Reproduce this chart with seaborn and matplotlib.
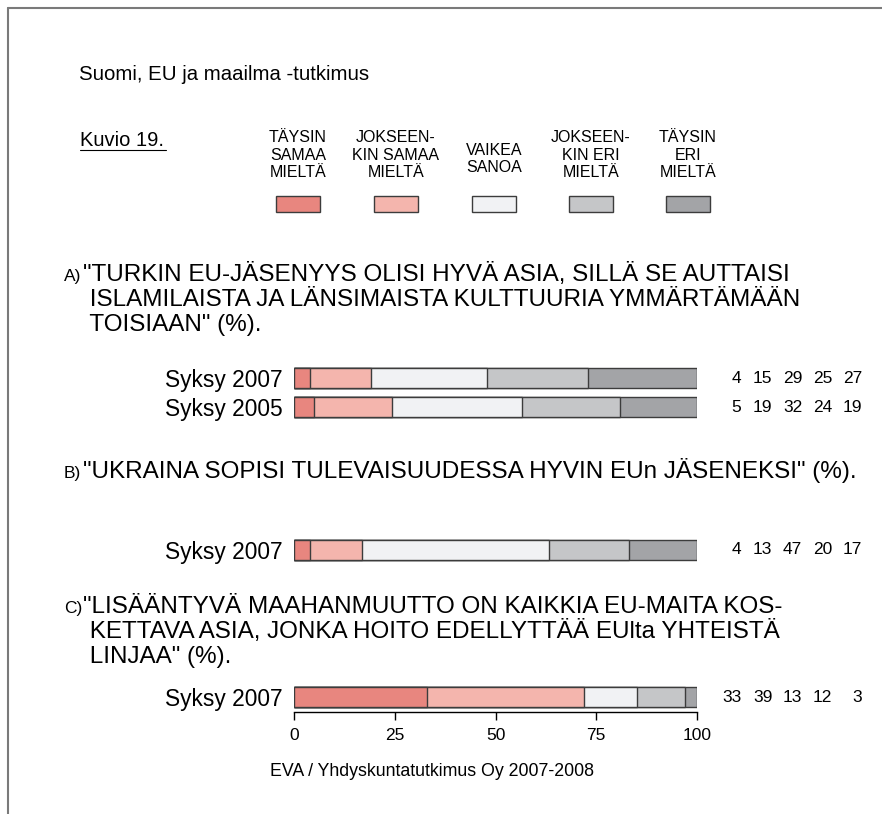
"""
Suomi, EU ja maailma -tutkimus, Kuvio 19: stacked agreement bars.
"""
import matplotlib

matplotlib.use("Agg")
import matplotlib.pyplot as plt
import numpy as np
import pandas as pd
import seaborn as sns
from matplotlib.lines import Line2D
from matplotlib.patches import Rectangle

# ---------------------------------------------------------------------------
# Data
# ---------------------------------------------------------------------------
CATEGORIES = [
    "TÄYSIN\nSAMAA\nMIELTÄ",
    "JOKSEEN-\nKIN SAMAA\nMIELTÄ",
    "VAIKEA\nSANOA",
    "JOKSEEN-\nKIN ERI\nMIELTÄ",
    "TÄYSIN\nERI\nMIELTÄ",
]
ROWS_A = ["Syksy 2007", "Syksy 2005"]
VALUES_A = [[4, 15, 29, 25, 27], [5, 19, 32, 24, 19]]
ROWS_B = ["Syksy 2007"]
VALUES_B = [[4, 13, 47, 20, 17]]
ROWS_C = ["Syksy 2007"]
VALUES_C = [[33, 39, 13, 12, 3]]
X_TICKS = [0, 25, 50, 75, 100]

QUESTION_A = [
    '"TURKIN EU-JÄSENYYS OLISI HYVÄ ASIA, SILLÄ SE AUTTAISI',
    ' ISLAMILAISTA JA LÄNSIMAISTA KULTTUURIA YMMÄRTÄMÄÄN',
    ' TOISIAAN" (%).',
]
QUESTION_B = ['"UKRAINA SOPISI TULEVAISUUDESSA HYVIN EUn JÄSENEKSI" (%).']
QUESTION_C = [
    '"LISÄÄNTYVÄ MAAHANMUUTTO ON KAIKKIA EU-MAITA KOS-',
    ' KETTAVA ASIA, JONKA HOITO EDELLYTTÄÄ EUlta YHTEISTÄ',
    ' LINJAA" (%).',
]

# ---------------------------------------------------------------------------
# Style / layout
# ---------------------------------------------------------------------------
COLORS = ["#e8867f", "#f4b5ad", "#f1f2f4", "#c5c6c8", "#a3a4a7"]
EDGE = "#3c3c3c"
W, H = 882, 814
BAR_L, BAR_R = 294, 697          # pixel span of 0..100
ROW_STEP = 29                    # pixels between bar rows
NUM_X = [111.0, 118.7, 126.1, 133.6, 141.0]  # right edges of value columns (data units)

sns.set_theme(style="white")
plt.rcParams["font.family"] = ["Liberation Sans", "DejaVu Sans"]
plt.rcParams["text.color"] = "black"

fig = plt.figure(figsize=(W / 100, H / 100), dpi=100)


def fx(x):
    return x / W


def fy(y):
    return 1 - y / H


def stacked_panel(center_top, rows, values, show_x=False):
    n = len(rows)
    top = center_top - ROW_STEP / 2
    ax = fig.add_axes([fx(BAR_L), fy(top + n * ROW_STEP), (BAR_R - BAR_L) / W, n * ROW_STEP / H])
    vals = np.array(values, dtype=float)
    # bars are drawn as shares of the row total (rounded rows may not sum to 100)
    share = vals / vals.sum(axis=1, keepdims=True) * 100
    cum = share.cumsum(axis=1)
    # draw cumulative totals from longest to shortest so segments stack
    for k in range(vals.shape[1] - 1, -1, -1):
        df = pd.DataFrame({"row": rows, "value": cum[:, k]})
        sns.barplot(
            data=df, x="value", y="row", orient="h", color=COLORS[k],
            saturation=1, width=20 / ROW_STEP, edgecolor=EDGE, linewidth=1,
            errorbar=None, ax=ax,
        )
    ax.set_xlim(0, 100)
    ax.set_ylim(n - 0.5, -0.5)
    ax.set_xlabel("")
    ax.set_ylabel("")
    for s in ["top", "right", "left"]:
        ax.spines[s].set_visible(False)
    ax.tick_params(axis="y", length=0, pad=8, labelsize=16.4, labelcolor="black")
    if show_x:
        ax.spines["bottom"].set_color("black")
        ax.spines["bottom"].set_linewidth(1)
        ax.set_xticks(X_TICKS)
        ax.tick_params(axis="x", bottom=True, length=6, width=1, color="black",
                       pad=6, labelsize=12.5, labelcolor="black")
    else:
        ax.spines["bottom"].set_visible(False)
        ax.set_xticks([])
    ax.set_facecolor("none")
    for i, row in enumerate(values):
        for j, v in enumerate(row):
            ax.text(NUM_X[j], i, str(v), ha="right", va="center", fontsize=12.5,
                    color="black", clip_on=False)
    return ax


def question(label, lines, baseline, step=25):
    fig.text(fx(64), fy(baseline), label, fontsize=12.5, va="baseline", ha="left")
    for i, line in enumerate(lines):
        fig.text(fx(83), fy(baseline + i * step), line, fontsize=17.5, va="baseline", ha="left")


# frame (top and left rules)
fig.add_artist(Line2D([fx(8), 1], [fy(8), fy(8)], color="#7a7a7a", lw=1.5))
fig.add_artist(Line2D([fx(8), fx(8)], [fy(8), 0], color="#7a7a7a", lw=1.5))

fig.text(fx(79), fy(80), "Suomi, EU ja maailma -tutkimus", fontsize=14.7, va="baseline")
fig.text(fx(80), fy(146), "Kuvio 19.", fontsize=14.5, va="baseline")
fig.add_artist(Line2D([fx(80), fx(166)], [fy(150), fy(150)], color="black", lw=0.8))

# legend
LEG_X = [298, 396, 494, 591, 688]
for cx, cat, col in zip(LEG_X, CATEGORIES, COLORS):
    n_lines = cat.count("\n") + 1
    base = 177 if n_lines == 3 else 172
    fig.text(fx(cx), fy(base), cat, fontsize=11.5, ha="center", va="baseline",
             linespacing=1.2, multialignment="center")
    fig.add_artist(Rectangle((fx(cx - 22), fy(212)), 44 / W, 16 / H,
                             facecolor=col, edgecolor=EDGE, lw=1))

question("A)", QUESTION_A, 281)
stacked_panel(378, ROWS_A, VALUES_A)

question("B)", QUESTION_B, 478)
stacked_panel(550, ROWS_B, VALUES_B)

question("C)", QUESTION_C, 613)
stacked_panel(697, ROWS_C, VALUES_C, show_x=True)

fig.text(fx(432), fy(776), "EVA / Yhdyskuntatutkimus Oy 2007-2008", fontsize=12.8,
         ha="center", va="baseline")

fig.savefig("out.png", dpi=100)
